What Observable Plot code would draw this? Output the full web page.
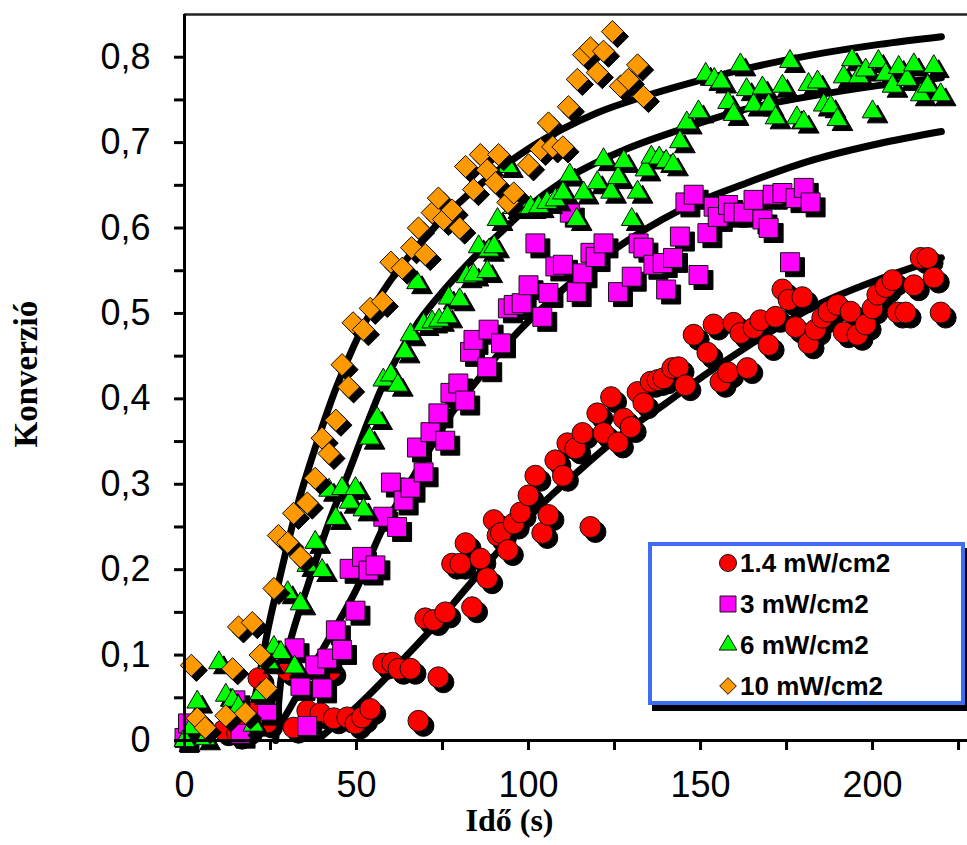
<!DOCTYPE html>
<html>
<head>
<meta charset="utf-8">
<script src="https://cdn.jsdelivr.net/npm/d3@7"></script>
<script src="https://cdn.jsdelivr.net/npm/@observablehq/plot@0.6"></script>
<style>
  body { margin: 0; background: #fff; }
  #wrap { position: relative; width: 967px; height: 845px; overflow: hidden; background: #fff; }
  #legend { position: absolute; left: 648px; top: 542px; width: 309px; height: 155px;
            border: 4px solid #3d6df2; background: #fff; box-shadow: 4px 6px 0 #000; }
  .row { position: absolute; left: 0; height: 30px; display: flex; align-items: center;
         font-family: Arial, "Liberation Sans", sans-serif; font-weight: bold; font-size: 26px; color: #000; }
  .row svg { margin-left: 66px; margin-right: 2px; }
</style>
</head>
<body>
<div id="wrap"><div id="legend"></div></div>
<script>
// ---- tick values ----
const xTicks = [0, 50, 100, 150, 200];
const xMinor = [25, 75, 125, 175, 225];
const yTicks = [0, 0.1, 0.2, 0.3, 0.4, 0.5, 0.6, 0.7, 0.8];
const yMinor = [0.05, 0.15, 0.25, 0.35, 0.45, 0.55, 0.65, 0.75];
const xMax = 227.6;
const yMax = 0.85;

// ---- series labels ----
const seriesNames = ["1.4 mW/cm2", "3 mW/cm2", "6 mW/cm2", "10 mW/cm2"];

// ---- measured points [time s, conversion] ----
const red14 = [[11.4,.012],[15.3,.008],[18.2,.014],[19,.033],[21.5,.073],[24,.021],[30,.082],[31.7,.015],[35.7,.035],[39.5,.032],[42.4,.082],[43.4,.026],[47.3,.027],[49.7,.02],[51.6,.027],[54,.037],[57.8,.09],[60.4,.091],[62.2,.084],[65.7,.084],[68,.023],[70,.143],[72.4,.141],[73.8,.074],[75.8,.15],[77.8,.207],[80.2,.207],[81.7,.231],[83.6,.156],[86,.213],[88,.19],[89.9,.258],[91,.24],[92,.243],[94,.223],[95.7,.254],[97.7,.267],[100,.287],[102,.31],[104,.243],[105.8,.264],[107.8,.328],[110,.31],[111.3,.348],[113.6,.342],[115.7,.36],[118,.25],[120,.383],[121.8,.36],[124,.402],[126,.349],[127.7,.377],[129.7,.367],[131.7,.408],[133.4,.395],[135.5,.42],[137.5,.422],[139.2,.424],[141.8,.436],[143.6,.437],[145.6,.416],[148,.475],[152,.454],[153.8,.487],[155.8,.42],[158,.431],[159.6,.489],[161.6,.477],[163.6,.436],[165.4,.483],[167.4,.492],[169.8,.463],[171.8,.496],[173.8,.528],[175.6,.516],[177.6,.484],[179.6,.519],[181.4,.465],[183.4,.481],[185.4,.495],[187.2,.502],[189.8,.51],[191.6,.478],[193.6,.502],[195.6,.475],[198,.487],[200,.506],[201.4,.522],[203.8,.531],[205.8,.539],[207.3,.501],[209.6,.501],[212,.533],[214,.565],[216,.565],[217.8,.542],[219.8,.501]];

const mag3 = [[0,.003],[1,.02],[14.8,.047],[16.3,.008],[24,.035],[32,.108],[33.7,.064],[35.7,.017],[38,.088],[40,.061],[41.5,.096],[44,.129],[45.8,.106],[48,.201],[49.7,.152],[51.6,.215],[53.5,.199],[55.5,.205],[57.8,.262],[60,.302],[61.8,.25],[63.7,.281],[65.7,.296],[67.6,.343],[69.5,.314],[71.5,.361],[73.8,.383],[75.8,.351],[77.3,.407],[79.6,.418],[81.6,.398],[83,.455],[84,.469],[88,.437],[88.4,.481],[92,.465],[94,.506],[95.7,.51],[98,.512],[100,.533],[102,.582],[104,.496],[105.8,.524],[107.8,.555],[110,.557],[112,.618],[114,.525],[115.7,.547],[118,.571],[119.5,.566],[121.8,.582],[126,.525],[130,.543],[132,.582],[133.4,.577],[136.3,.557],[139,.559],[140,.528],[142,.565],[144,.59],[145.6,.63],[148,.639],[149.4,.545],[152,.594],[153.8,.625],[155,.613],[158,.627],[159.6,.618],[162.5,.618],[165.4,.633],[168,.61],[169.8,.6],[171,.639],[173.8,.641],[176,.56],[177.6,.635],[180,.647],[182,.63]];

const green6 = [[0,0],[2,.015],[3.7,.045],[6,.002],[10,.091],[12,.053],[14,.047],[15.7,.039],[20,.018],[22,.055],[24.5,.091],[26,.109],[28,.103],[30,.173],[32,.086],[33.7,.16],[35.7,.205],[38,.232],[40,.199],[42,.293],[44,.26],[45.8,.295],[48,.279],[49.7,.295],[52,.27],[53.8,.354],[56,.377],[57.8,.422],[60,.428],[62,.416],[64,.455],[65.7,.475],[67.6,.536],[69.5,.487],[72,.49],[74,.492],[76.4,.496],[76.8,.518],[80,.516],[82,.543],[84,.545],[85.5,.578],[88,.549],[88.5,.574],[90,.578],[91,.61],[94,.672],[95.6,.624],[98,.624],[100.6,.624],[103,.625],[105.4,.63],[107.8,.633],[110,.641],[112,.662],[114,.61],[116,.641],[120,.653],[121.8,.68],[124,.642],[126,.659],[127.7,.678],[130,.61],[131.7,.642],[134,.668],[135.7,.683],[138,.682],[140,.678],[142,.674],[144,.701],[146,.723],[149.4,.736],[151.5,.78],[154,.774],[156,.771],[158,.747],[159.6,.733],[161.6,.791],[163.4,.762],[165.4,.744],[168,.764],[169.8,.744],[171.8,.729],[173.8,.766],[176,.795],[178,.729],[180,.724],[181.4,.768],[184,.771],[185.8,.744],[187.8,.742],[189.8,.727],[191.6,.777],[194,.797],[196,.777],[198,.785],[200,.736],[201.7,.795],[203.8,.78],[205.8,.766],[207.6,.788],[210,.774],[212,.791],[214,.756],[216,.766],[217.8,.789],[219.8,.756]];

const orange10 = [[2,.088],[3.7,.026],[6,.015],[12,.029],[14,.084],[15.7,.133],[17.7,.032],[19.7,.138],[22,.1],[23.8,.061],[26,.178],[27.3,.24],[30,.232],[31.7,.266],[33.7,.215],[35.7,.278],[38,.307],[40,.354],[42,.336],[44,.375],[45.8,.44],[47.7,.414],[49,.489],[52,.481],[54,.506],[57.5,.514],[60,.56],[63.3,.553],[66,.577],[68,.6],[70,.569],[72,.618],[73.8,.635],[75.3,.61],[77.8,.621],[80,.6],[81.7,.672],[84,.645],[86,.686],[88,.668],[90.4,.653],[91.3,.686],[94,.63],[95.7,.641],[100,.674],[103.5,.692],[105.8,.723],[107,.695],[110,.695],[111.6,.742],[114.2,.774],[116,.803],[118,.811],[120,.782],[121.8,.807],[124.4,.83],[126.7,.766],[129,.774],[131.7,.791],[133.4,.754]];

// ---- fitted curves ----
const fitRed = [[40,.005],[44.3,.02],[50.2,.04],[57,.067],[64.7,.1],[72.4,.133],[81,.174],[89.8,.215],[103.5,.275],[115,.317],[126.7,.357],[140,.395],[152,.43],[165,.465],[183,.508],[202,.54],[220,.565]];
const fitMag = [[28,.02],[30.8,.039],[36.6,.082],[43.4,.129],[50.2,.179],[57,.243],[63.7,.29],[70.5,.336],[78.3,.387],[86,.426],[95,.47],[105,.51],[115,.545],[125,.575],[144,.621],[163.6,.653],[183,.68],[202,.699],[220,.713]];
const fitGreen = [[26.5,.0],[28,.07],[31,.12],[35.7,.18],[41.5,.25],[48.3,.32],[53,.37],[57,.41],[62,.45],[68,.49],[76,.53],[84,.565],[92,.595],[100,.625],[110,.655],[127,.69],[144,.715],[164,.74],[183,.755],[202,.767],[220,.776]];
const fitOrange = [[17.5,.0],[19.7,.035],[21.5,.07],[24.4,.133],[28,.196],[32.7,.273],[38.6,.35],[44,.412],[49,.46],[55,.508],[61,.545],[68,.58],[79.4,.628],[90,.664],[99.7,.692],[110,.716],[120,.735],[132,.752],[149,.772],[163.6,.787],[183,.803],[202,.815],[220,.824]];

// ---- styles ----
const seriesStyle = [
  {data: red14,    symbol: "circle",   r: 10.5, fill: "#ff0000", lr: 8.5},
  {data: mag3,     symbol: "square",   r: 10.7, fill: "#ff00ff", lr: 9},
  {data: green6,   symbol: "triangle", r: 7.7,  fill: "#00ff00", lr: 6.5},
  {data: orange10, symbol: "diamond2", r: 10,   fill: "#ff9900", lr: 7.5}
];
const fits = [fitRed, fitMag, fitGreen, fitOrange];

const X = d => d[0], Y = d => d[1];
const fmt = d => String(d).replace(".", ",");

const marks = [];
marks.push(Plot.ruleY([yMax], {stroke: "#222", strokeWidth: 2.5}));
for (const f of fits) {
  marks.push(Plot.line(f, {x: X, y: Y, stroke: "black", strokeWidth: 7, curve: "monotone-x", strokeLinecap: "round"}));
}
for (const s of seriesStyle) {
  marks.push(Plot.dot(s.data, {x: X, y: Y, symbol: s.symbol, r: s.r, fill: "black", stroke: "black", strokeWidth: 1, dx: 5, dy: 5}));
  marks.push(Plot.dot(s.data, {x: X, y: Y, symbol: s.symbol, r: s.r, fill: s.fill, stroke: "#111", strokeWidth: 1}));
}
marks.push(
  Plot.ruleX([0], {stroke: "black", strokeWidth: 3}),
  Plot.ruleY([0], {stroke: "black", strokeWidth: 3}),
  Plot.axisX(xTicks, {tickSize: 10, tickPadding: 21, fontSize: 36, strokeWidth: 3, label: null, tickFormat: d => String(d)}),
  Plot.axisX(xMinor, {tickSize: 10, strokeWidth: 3, label: null, tickFormat: () => ""}),
  Plot.axisY(yTicks, {tickSize: 10, tickPadding: 24, fontSize: 36, strokeWidth: 3, label: null, tickFormat: fmt}),
  Plot.axisY(yMinor, {tickSize: 10, strokeWidth: 3, label: null, tickFormat: () => ""}),
  Plot.text(["Idő (s)"], {frameAnchor: "bottom-left", dx: 281, dy: 90, fontSize: 32, fontWeight: "bold",
    fontFamily: "'Liberation Serif', 'Times New Roman', serif", fill: "black", text: d => d}),
  Plot.text(["Konverzió"], {frameAnchor: "left", dx: -158, dy: 70, rotate: -90, fontSize: 33, fontWeight: "bold",
    fontFamily: "'Liberation Serif', 'Times New Roman', serif", fill: "black", text: d => d})
);

const chart = Plot.plot({
  width: 967, height: 845,
  marginLeft: 184, marginRight: 0, marginTop: 14, marginBottom: 105,
  x: {domain: [0, xMax]},
  y: {domain: [0, yMax]},
  style: {fontFamily: "Arial, 'Liberation Sans', sans-serif", background: "white", color: "black", overflow: "visible"},
  marks
});
document.getElementById("wrap").prepend(chart);

// ---- legend ----
const legend = document.getElementById("legend");
const rowTops = [2, 43, 84, 125];
seriesStyle.forEach((s, i) => {
  const row = document.createElement("div");
  row.className = "row";
  row.style.top = rowTops[i] + "px";
  const ns = "http://www.w3.org/2000/svg";
  const svg = document.createElementNS(ns, "svg");
  svg.setAttribute("width", 20); svg.setAttribute("height", 20);
  const p = document.createElementNS(ns, "path");
  const sym = {circle: d3.symbolCircle, square: d3.symbolSquare, triangle: d3.symbolTriangle, diamond2: d3.symbolDiamond2}[s.symbol];
  p.setAttribute("d", d3.symbol(sym, s.lr * s.lr * Math.PI)());
  p.setAttribute("transform", "translate(10,10)");
  p.setAttribute("fill", s.fill); p.setAttribute("stroke", "#111"); p.setAttribute("stroke-width", 1);
  svg.appendChild(p);
  row.appendChild(svg);
  const t = document.createElement("span");
  t.textContent = seriesNames[i];
  row.appendChild(t);
  legend.appendChild(row);
});
</script>
</body>
</html>
